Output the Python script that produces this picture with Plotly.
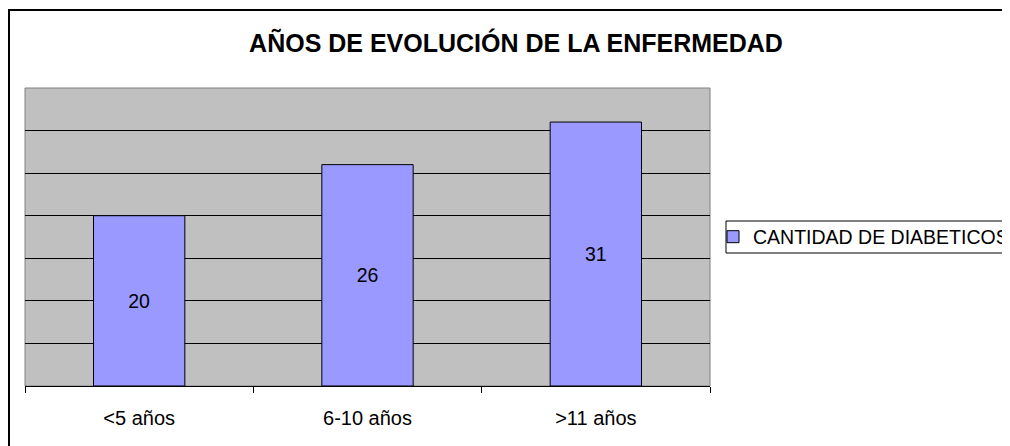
import plotly.graph_objects as go

categories = ["<5 años", "6-10 años", ">11 años"]
values = [20, 26, 31]
series_name = "CANTIDAD DE DIABETICOS"
title_text = "AÑOS DE EVOLUCIÓN DE LA ENFERMEDAD"

# the page body adds an 8px offset; figure is sized to fill the rest of the window
W, H = 1002, 438
L, R, T, B = 17, 300, 80, 60
pw, ph = W - L - R, H - T - B
FONT = "Liberation Sans, Arial, sans-serif"

def px_x(x):
    return (x - L) / pw

def px_y(y):
    return (H - B - y) / ph

fig = go.Figure()
fig.add_trace(go.Bar(
    x=categories, y=values, name=series_name,
    marker=dict(color="#9999FF", line=dict(color="#000000", width=1)),
    width=0.4,
    text=[str(v) for v in values], textposition="inside",
    insidetextanchor="middle", textangle=0,
    textfont=dict(family=FONT, size=19.5, color="#000000"),
    showlegend=True,
))

fig.update_layout(
    width=W, height=H,
    margin=dict(l=L, r=R, t=T, b=B, autoexpand=False),
    paper_bgcolor="#FFFFFF", plot_bgcolor="#C0C0C0",
    font=dict(family=FONT, size=19.5, color="#000000"),
    title=dict(text="<b>" + title_text + "</b>", x=508 / W, xanchor="center",
               y=1 - 35 / H, yanchor="middle", xref="container", yref="container",
               font=dict(family=FONT, size=25, color="#000000")),
    bargap=0.6,
    showlegend=True,
    legend=dict(x=px_x(705), xanchor="left", y=px_y(229), yanchor="middle",
                borderwidth=0, bgcolor="rgba(0,0,0,0)",
                font=dict(family=FONT, size=19.5, color="#000000"),
                itemwidth=30),
    xaxis=dict(showgrid=False, showline=True, linecolor="#000000", linewidth=1,
               ticks="outside", tickson="boundaries", ticklen=6, tickcolor="#000000",
               tickfont=dict(family=FONT, size=20), ticklabelstandoff=14,
               mirror=False, zeroline=False),
    yaxis=dict(range=[0, 35], dtick=5, showgrid=True, gridcolor="#000000", gridwidth=1,
               showticklabels=False, ticks="", showline=False, zeroline=False),
    shapes=[
        # plot area border (gray)
        dict(type="rect", xref="paper", yref="paper", x0=0, x1=1, y0=0, y1=1,
             line=dict(color="#808080", width=1), layer="below"),
        # legend box
        dict(type="rect", xref="paper", yref="paper",
             x0=px_x(718), x1=px_x(1010), y0=px_y(245), y1=px_y(213),
             line=dict(color="#000000", width=1)),
        # outer chart border
        dict(type="rect", xref="paper", yref="paper",
             x0=px_x(1), x1=px_x(1012), y0=px_y(450), y1=px_y(2),
             line=dict(color="#000000", width=2)),
    ],
)

fig.write_html("out.html")
